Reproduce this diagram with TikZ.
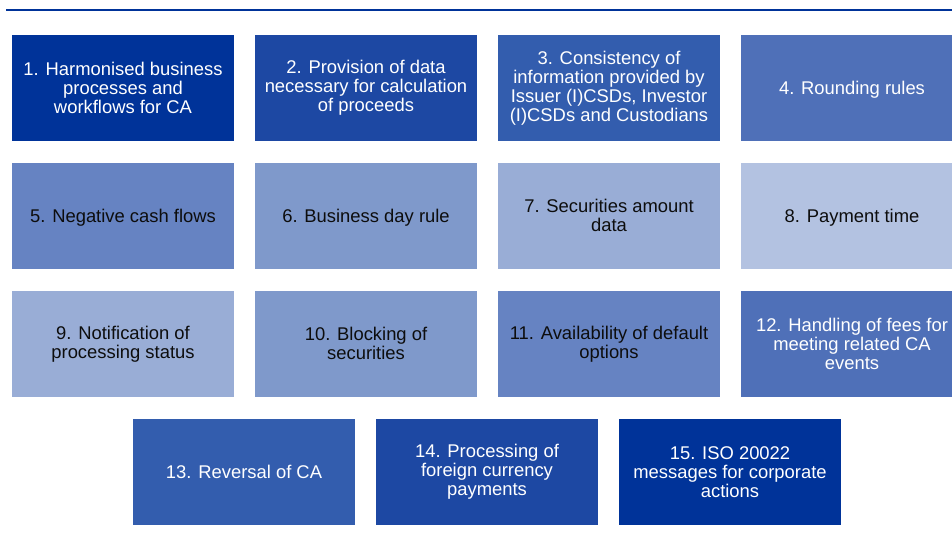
\documentclass[tikz,border=0pt]{standalone}
\usepackage{fontspec}
\setmainfont{Liberation Sans}
\definecolor{ink}{HTML}{0D0D0D}
\definecolor{tone1}{HTML}{003399}
\definecolor{tone2}{HTML}{1D48A3}
\definecolor{tone3}{HTML}{335DAE}
\definecolor{tone4}{HTML}{4F70B8}
\definecolor{tone5}{HTML}{6683C2}
\definecolor{tone6}{HTML}{7F99CB}
\definecolor{tone7}{HTML}{99ADD6}
\definecolor{tone8}{HTML}{B3C2E1}
\tikzset{
  cell/.style={rectangle, draw=none, inner sep=0pt, minimum width=222pt,
    minimum height=105.5pt, align=center,
    font=\fontsize{18.4}{19}\selectfont},
  % single-line labels are centred on the full line box of the font
  oneline/.style={text height=16.7pt, text depth=3.9pt},
  lighttext/.style={text=white},
  darktext/.style={text=ink},
  rule/.style={draw=tone1, line width=2pt}
}
\begin{document}
\begin{tikzpicture}[x=1pt,y=-1pt]
  \useasboundingbox[clip] (0,0) rectangle (952,544);
  % header rule
  \coordinate (ruleL) at (6,10);
  \coordinate (ruleR) at (952,10);
  \draw[rule] (ruleL) -- (ruleR);

  % row 1
  \node[cell, fill=tone1, lighttext] (b1) at (123,87.75)
    {1. Harmonised business\\processes and\\workflows for CA};
  \node[cell, fill=tone2, lighttext] (b2) at (366,87.75)
    {2. Provision of data\\necessary for calculation\\of proceeds};
  \node[cell, fill=tone3, lighttext] (b3) at (609,87.75)
    {3. Consistency of\\information provided by\\Issuer (I)CSDs, Investor\\(I)CSDs and Custodians};
  \node[cell, oneline, fill=tone4, lighttext] (b4) at (852,87.75)
    {4. Rounding rules};

  % row 2
  \node[cell, oneline, fill=tone5, darktext] (b5) at (123,215.75)
    {5. Negative cash flows};
  \node[cell, oneline, fill=tone6, darktext] (b6) at (366,215.75)
    {6. Business day rule};
  \node[cell, fill=tone7, darktext] (b7) at (609,215.75)
    {7. Securities amount\\data};
  \node[cell, oneline, fill=tone8, darktext] (b8) at (852,215.75)
    {8. Payment time};

  % row 3
  \node[cell, fill=tone7, darktext] (b9) at (123,343.75)
    {9. Notification of\\processing status};
  \node[cell, fill=tone6, darktext] (b10) at (366,343.75)
    {10. Blocking of\\securities};
  \node[cell, fill=tone5, darktext] (b11) at (609,343.75)
    {11. Availability of default\\options};
  \node[cell, fill=tone4, lighttext] (b12) at (852,343.75)
    {12. Handling of fees for\\meeting related CA\\events};

  % row 4
  \node[cell, oneline, fill=tone3, lighttext] (b13) at (244,471.75)
    {13. Reversal of CA};
  \node[cell, fill=tone2, lighttext] (b14) at (487,471.75)
    {14. Processing of\\foreign currency\\payments};
  \node[cell, fill=tone1, lighttext] (b15) at (730,471.75)
    {15. ISO 20022\\messages for corporate\\actions};
\end{tikzpicture}
\end{document}
